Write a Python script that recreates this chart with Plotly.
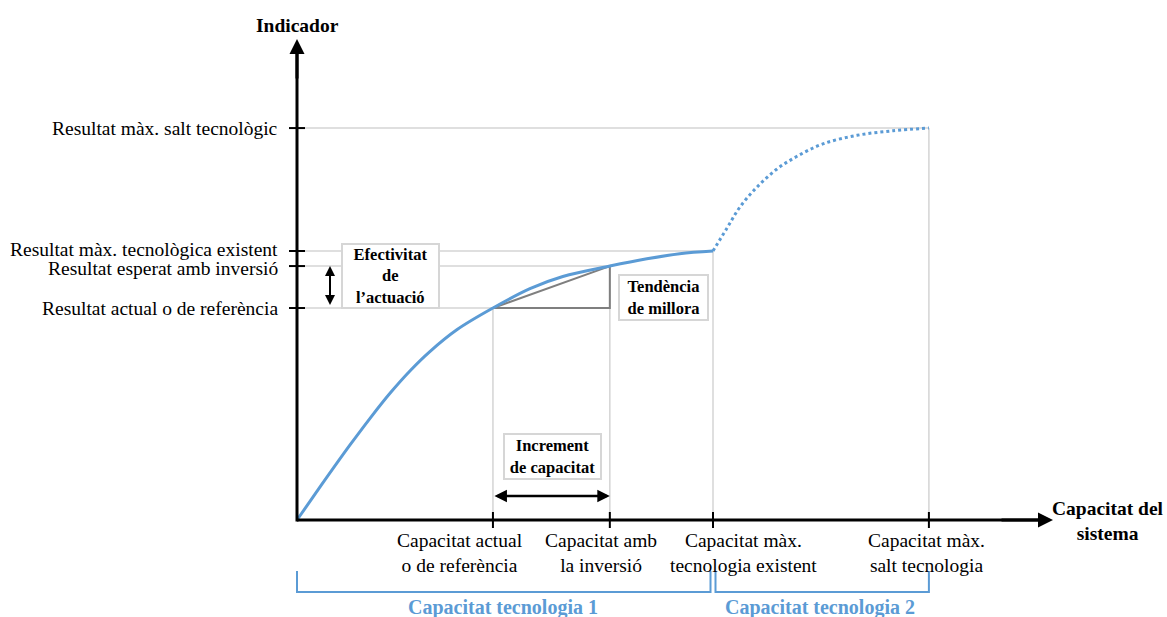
import plotly.graph_objects as go

# ---------------- data (abstract units) ----------------
x_levels = [4.71, 7.52, 10.0, 15.19]          # capacitat
x_labels = ["Capacitat actual<br>o de referència",
            "Capacitat amb<br>la inversió",
            "Capacitat màx.<br>tecnologia existent",
            "Capacitat màx.<br>salt tecnologia"]
y_levels = [7.88, 9.44, 10.0, 14.57]          # indicador
y_labels = ["Resultat actual o de referència",
            "Resultat esperat amb inversió",
            "Resultat màx. tecnològica existent",
            "Resultat màx. salt tecnològic"]

curve_x = [0.0, 0.6, 1.27, 1.76, 2.24, 2.72, 3.2, 3.85, 4.71, 5.6, 6.39, 7.52, 8.41, 9.2, 10.0]
curve_y = [0.0, 1.33, 2.78, 3.79, 4.72, 5.55, 6.27, 7.08, 7.88, 8.6, 9.05, 9.44, 9.71, 9.9, 10.0]

jump_x = [10.0, 10.34, 10.65, 11.06, 11.54, 12.02, 12.64, 13.46, 14.33, 15.19]
jump_y = [10.0, 10.86, 11.64, 12.38, 13.05, 13.52, 13.98, 14.3, 14.47, 14.57]

bracket_labels = ["Capacitat tecnologia 1", "Capacitat tecnologia 2"]

# ---------------- layout helpers (pixel -> axis units) ----------------
W, H = 1167, 617
OX, OY = 297, 520          # pixel position of the origin
SX, SY = 41.6, 26.9        # pixels per unit


def PX(px):
    return (px - OX) / SX


def PY(py):
    return (OY - py) / SY


BLUE = "#5b9bd5"
GRID = "#d4d4d4"
DARK = "#7f7f7f"
FONT = "Liberation Serif"

fig = go.Figure()

fig.add_trace(go.Scatter(x=curve_x, y=curve_y, mode="lines",
                         line=dict(color=BLUE, width=3, shape="spline", smoothing=1.0),
                         hoverinfo="skip", showlegend=False))
fig.add_trace(go.Scatter(x=jump_x, y=jump_y, mode="lines",
                         line=dict(color=BLUE, width=3, dash="dot", shape="spline", smoothing=1.0),
                         hoverinfo="skip", showlegend=False))

shapes = []
# light gray guide lines
for xv, yv in zip(x_levels, y_levels):
    shapes.append(dict(type="line", x0=0, x1=xv, y0=yv, y1=yv,
                       line=dict(color=GRID, width=1.5), layer="below"))
    shapes.append(dict(type="line", x0=xv, x1=xv, y0=0, y1=yv,
                       line=dict(color=GRID, width=1.5), layer="below"))
# improvement triangle
shapes.append(dict(type="path",
                   path=f"M {x_levels[0]},{y_levels[0]} L {x_levels[1]},{y_levels[0]} "
                        f"L {x_levels[1]},{y_levels[1]} Z",
                   line=dict(color=DARK, width=2), layer="below"))
# axes
shapes.append(dict(type="line", x0=0, x1=PX(1040), y0=0, y1=0, line=dict(color="black", width=3)))
shapes.append(dict(type="line", x0=0, x1=0, y0=PY(521.5), y1=PY(52), line=dict(color="black", width=3)))
# ticks
for xv in x_levels:
    shapes.append(dict(type="line", x0=xv, x1=xv, y0=PY(512), y1=PY(528), line=dict(color="black", width=2)))
for yv in y_levels:
    shapes.append(dict(type="line", x0=PX(289), x1=PX(305), y0=yv, y1=yv, line=dict(color="black", width=2)))
# brackets
br_top, br_bot = PY(571), PY(592)
gap = 2.5 / SX
for x0, x1 in [(0, x_levels[2] - gap), (x_levels[2] + gap, x_levels[3])]:
    shapes.append(dict(type="path",
                       path=f"M {x0},{br_top} L {x0},{br_bot} L {x1},{br_bot} L {x1},{br_top}",
                       line=dict(color=BLUE, width=2)))

ann = []
txt = dict(family=FONT, size=19.5, color="black")
bold = dict(family=FONT, size=19.5, color="black")

# axis arrowheads
ann.append(dict(x=0, y=PY(39), ax=0, ay=PY(80), xref="x", yref="y", axref="x", ayref="y",
                text="", showarrow=True, arrowhead=2, arrowsize=1, arrowwidth=3, arrowcolor="black"))
ann.append(dict(x=PX(1053), y=0, ax=PX(1000), ay=0, xref="x", yref="y", axref="x", ayref="y",
                text="", showarrow=True, arrowhead=2, arrowsize=1, arrowwidth=3, arrowcolor="black"))

# axis titles
ann.append(dict(x=0, y=PY(25), text="<b>Indicador</b>", showarrow=False, font=bold,
                xanchor="center", yanchor="middle"))
ann.append(dict(x=PX(1108), y=PY(521), text="<b>Capacitat del<br>sistema</b>", showarrow=False,
                font=bold, xanchor="center", yanchor="middle"))

# y labels
y_shift = [0, -2, 2, 0]
for yv, lab, sh in zip(y_levels, y_labels, y_shift):
    ann.append(dict(x=PX(280), y=yv, text=lab, showarrow=False, font=txt,
                    xanchor="right", yanchor="middle", yshift=sh))

# x labels
x_centers = [460, 601, 743, 926]
for xc, lab in zip(x_centers, x_labels):
    ann.append(dict(x=PX(xc), y=PY(528), text=lab, showarrow=False, font=txt,
                    xanchor="center", yanchor="top"))

# bracket labels
for xc, lab in zip([503, 820], bracket_labels):
    ann.append(dict(x=PX(xc), y=PY(607), text=f"<b>{lab}</b>", showarrow=False,
                    font=dict(family=FONT, size=20, color=BLUE), xanchor="center", yanchor="middle"))

# boxes
box_font = dict(family=FONT, size=16.5, color="black")
boxes = [
    ("<b>Efectivitat<br>de<br>l’actuació</b>", 390.5, 276, 95, 62),
    ("<b>Tendència<br>de millora</b>", 663.5, 297.5, 87, 43),
    ("<b>Increment<br>de capacitat</b>", 552.5, 456.5, 95, 43),
]
for t, cx, cy, w, h in boxes:
    ann.append(dict(x=PX(cx), y=PY(cy), text=t, showarrow=False, font=box_font,
                    xanchor="center", yanchor="middle", width=w, height=h,
                    bgcolor="white", bordercolor="#d6d6d6", borderwidth=2, borderpad=0))

# double arrows
ann.append(dict(x=PX(330), y=y_levels[1], ax=PX(330), ay=y_levels[0] + 1.5 / SY,
                xref="x", yref="y", axref="x", ayref="y", text="", showarrow=True,
                arrowhead=2, startarrowhead=2, arrowside="end+start", arrowsize=1,
                startarrowsize=1, arrowwidth=2, arrowcolor="black"))
ann.append(dict(x=x_levels[1], y=PY(496), ax=x_levels[0], ay=PY(496),
                xref="x", yref="y", axref="x", ayref="y", text="", showarrow=True,
                arrowhead=2, startarrowhead=2, arrowside="end+start", arrowsize=1,
                startarrowsize=1, arrowwidth=2.5, arrowcolor="black"))

fig.update_layout(
    width=W, height=H, margin=dict(l=0, r=0, t=0, b=0),
    paper_bgcolor="white", plot_bgcolor="white",
    xaxis=dict(range=[PX(0), PX(W)], visible=False, fixedrange=True),
    yaxis=dict(range=[PY(H), PY(0)], visible=False, fixedrange=True),
    shapes=shapes, annotations=ann, showlegend=False,
)

fig.write_html("out.html", config={"displayModeBar": False},
               post_script="document.body.style.margin='0';document.body.style.overflow='hidden';")
